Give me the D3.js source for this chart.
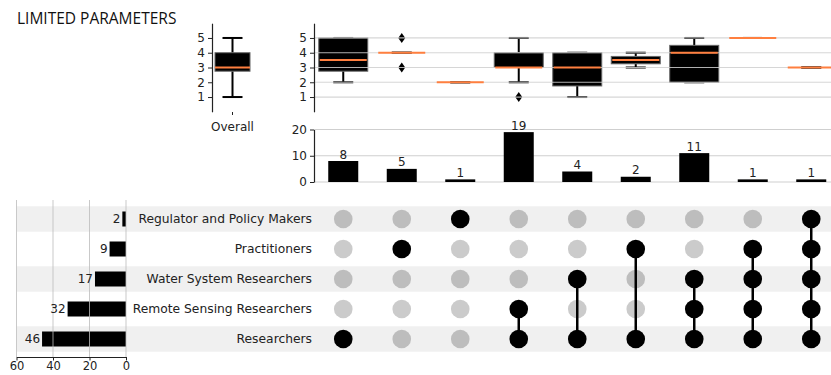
<!DOCTYPE html>
<html>
<head>
<meta charset="utf-8">
<script src="https://cdn.jsdelivr.net/npm/d3@7"></script>
<style>
  body { margin: 0; background: #fff; }
  svg { display: block; font-family: "DejaVu Sans", sans-serif; }
</style>
</head>
<body>
<div id="chart"></div>
<script>
// chart values
var categories = ["Regulator and Policy Makers", "Practitioners", "Water System Researchers",
    "Remote Sensing Researchers", "Researchers"];
var categoryTotals = [2, 9, 17, 32, 46];
var intersectionCounts = [8, 5, 1, 19, 4, 2, 11, 1, 1];
// which categories (index into categories) each intersection contains
var memberships = [[4], [1], [0], [3, 4], [2, 4], [1, 4], [2, 3, 4], [1, 2, 3, 4], [0, 1, 2, 3, 4]];

// box statistics of the rating (1-5) per intersection
var boxQ1 = [2.75, 4, 2, 3, 1.75, 3.25, 2, 5, 3];
var boxMedian = [3.5, 4, 2, 3, 3, 3.5, 4, 5, 3];
var boxQ3 = [5, 4, 2, 4, 4, 3.75, 4.5, 5, 3];
var whiskerLow = [2, 4, 2, 2, 1, 3, 2, 5, 3];
var whiskerHigh = [5, 4, 2, 5, 4, 4, 5, 5, 3];
var outliers = [[], [3, 5], [], [1], [], [], [], [], []];

var overallLabel = ["Overall"];
var overallBox = { q1: 2.75, median: 3, q3: 4, low: 1, high: 5 };

var ratingTicks = [1, 2, 3, 4, 5];
var countTicks = [0, 10, 20];
var totalTicks = [0, 20, 40, 60];
var title = "LIMITED PARAMETERS";

var W = 831, H = 375;
var svg = d3.select("#chart").append("svg")
    .attr("width", W)
    .attr("height", H);

var gridColor = "#cfcfcf";
var bandColor = "#f0f0f0";
var medianColor = "#ff7f3f";
var fontTick = 12;

// scales
var cols = intersectionCounts.map(function (d, i) { return i; });
var x = d3.scaleBand().domain(cols).range([314, 840.5]);
var cx = function (i) { return x(i) + x.bandwidth() / 2; };
var rowY = d3.scalePoint().domain(categories).range([219, 339]);
var yBox = d3.scaleLinear().domain([0, 6]).range([111.8, 23.2]);
var yCount = d3.scaleLinear().domain([0, 20]).range([182, 129.5]);
var xTotal = d3.scaleLinear().domain([0, 60]).range([126, 16.5]);
var xOverall = d3.scaleBand().domain(overallLabel).range([212, 253]);

// title
svg.append("text")
    .attr("x", 17)
    .attr("y", 24)
    .style("font-family", "'Open Sans', sans-serif")
    .style("font-size", "15.5px")
    .style("fill", "#111")
    .text(title);

// ---------- matrix shading ----------
svg.selectAll(".band")
    .data(categories.filter(function (d, i) { return i % 2 == 0; }))
    .enter().append("rect")
    .attr("class", "band")
    .attr("x", 17)
    .attr("y", function (d) { return rowY(d) - 12.7; })
    .attr("width", W - 17)
    .attr("height", 25.4)
    .style("fill", bandColor);

// ---------- totals (left) ----------
var totals = svg.append("g");
totals.selectAll(".totalBar")
    .data(categories)
    .enter().append("rect")
    .attr("class", "totalBar")
    .attr("x", function (d, i) { return xTotal(categoryTotals[i]); })
    .attr("y", function (d) { return rowY(d) - 7.5; })
    .attr("width", function (d, i) { return xTotal(0) - xTotal(categoryTotals[i]); })
    .attr("height", 15)
    .style("fill", "#000");

totals.selectAll(".totalGrid")
    .data(totalTicks)
    .enter().append("line")
    .attr("x1", function (d) { return xTotal(d); })
    .attr("x2", function (d) { return xTotal(d); })
    .attr("y1", 200)
    .attr("y2", 357)
    .style("stroke", "#bbb")
    .style("stroke-opacity", 0.8)
    .style("stroke-width", 1);

totals.selectAll(".totalLabel")
    .data(categories)
    .enter().append("text")
    .attr("x", function (d, i) { return xTotal(categoryTotals[i]) - 2; })
    .attr("y", function (d) { return rowY(d); })
    .attr("dy", "0.36em")
    .style("text-anchor", "end")
    .style("font-size", fontTick + "px")
    .style("fill", "#222")
    .text(function (d, i) { return categoryTotals[i]; });

var totalAxis = totals.append("g")
    .attr("transform", "translate(0,357)")
    .call(d3.axisBottom(xTotal).tickValues(totalTicks).tickSize(3.5).tickPadding(1.5).tickSizeOuter(0));
totalAxis.select(".domain").style("stroke", "#222").style("stroke-width", 1.2);
totalAxis.selectAll(".tick line").style("stroke", "#222");
totalAxis.selectAll("text").style("font-size", "11.5px")
    .style("font-family", "'DejaVu Sans', sans-serif").style("fill", "#222");

// category names
svg.selectAll(".catLabel")
    .data(categories)
    .enter().append("text")
    .attr("x", 312)
    .attr("y", function (d) { return rowY(d); })
    .attr("dy", "0.36em")
    .style("text-anchor", "end")
    .style("font-size", "12.3px")
    .style("fill", "#222")
    .text(function (d) { return d; });

// ---------- matrix dots ----------
var matrix = svg.append("g");
cols.forEach(function (c) {
    var members = memberships[c];
    categories.forEach(function (cat, r) {
        var on = members.indexOf(r) >= 0;
        matrix.append("circle")
            .attr("cx", cx(c))
            .attr("cy", rowY(cat))
            .attr("r", 9.3)
            .style("fill", on ? "#000" : (r % 2 == 0 ? "#bdbdbd" : "#cbcbcb"));
    });
    if (members.length > 1) {
        matrix.append("line")
            .attr("x1", cx(c)).attr("x2", cx(c))
            .attr("y1", rowY(categories[d3.min(members)]))
            .attr("y2", rowY(categories[d3.max(members)]))
            .style("stroke", "#000")
            .style("stroke-width", 2.5);
    }
});

// ---------- intersection size bars ----------
var bars = svg.append("g");
bars.selectAll(".countGrid")
    .data(countTicks)
    .enter().append("line")
    .attr("x1", 314).attr("x2", W)
    .attr("y1", function (d) { return yCount(d); })
    .attr("y2", function (d) { return yCount(d); })
    .style("stroke", gridColor)
    .style("stroke-width", 1);

bars.selectAll(".countBar")
    .data(intersectionCounts)
    .enter().append("rect")
    .attr("x", function (d, i) { return cx(i) - 15; })
    .attr("y", function (d) { return yCount(d); })
    .attr("width", 30)
    .attr("height", function (d) { return yCount(0) - yCount(d); })
    .style("fill", "#000");

bars.selectAll(".countLabel")
    .data(intersectionCounts)
    .enter().append("text")
    .attr("x", function (d, i) { return cx(i); })
    .attr("y", function (d) { return yCount(d) - 2.5; })
    .style("text-anchor", "middle")
    .style("font-size", fontTick + "px")
    .style("fill", "#222")
    .text(function (d) { return d; });

var countAxis = bars.append("g")
    .attr("transform", "translate(314,0)")
    .call(d3.axisLeft(yCount).tickValues(countTicks).tickSize(4).tickPadding(3).tickSizeOuter(0));

// ---------- boxplots ----------
function drawBox(g, center, halfW, s, outl) {
    g.append("line")
        .attr("x1", center).attr("x2", center)
        .attr("y1", yBox(s.q3)).attr("y2", yBox(s.high))
        .style("stroke", "#000").style("stroke-width", 2);
    g.append("line")
        .attr("x1", center).attr("x2", center)
        .attr("y1", yBox(s.q1)).attr("y2", yBox(s.low))
        .style("stroke", "#000").style("stroke-width", 2);
    [s.low, s.high].forEach(function (v) {
        g.append("line")
            .attr("x1", center - 10).attr("x2", center + 10)
            .attr("y1", yBox(v)).attr("y2", yBox(v))
            .style("stroke", "#000").style("stroke-width", 2);
    });
    g.append("rect")
        .attr("x", center - halfW)
        .attr("y", yBox(s.q3))
        .attr("width", halfW * 2)
        .attr("height", yBox(s.q1) - yBox(s.q3))
        .style("fill", "#000")
        .style("stroke", "#666")
        .style("stroke-width", 1);
    (outl || []).forEach(function (v) {
        g.append("path")
            .attr("d", "M0,-5L3.5,0L0,5L-3.5,0Z")
            .attr("transform", "translate(" + center + "," + yBox(v) + ")")
            .style("fill", "#000");
    });
}

var boxes = svg.append("g");
cols.forEach(function (c) {
    drawBox(boxes, cx(c), 24.5, {
        q1: boxQ1[c], median: boxMedian[c], q3: boxQ3[c],
        low: whiskerLow[c], high: whiskerHigh[c]
    }, outliers[c]);
});

// gridlines sit over the boxes, medians over the gridlines
boxes.selectAll(".boxGrid")
    .data(ratingTicks)
    .enter().append("line")
    .attr("x1", 314).attr("x2", W)
    .attr("y1", function (d) { return yBox(d); })
    .attr("y2", function (d) { return yBox(d); })
    .style("stroke", gridColor)
    .style("stroke-opacity", 0.85)
    .style("stroke-width", 1.2);

boxes.selectAll(".median")
    .data(boxMedian)
    .enter().append("line")
    .attr("x1", function (d, i) { return cx(i) - 23.5; })
    .attr("x2", function (d, i) { return cx(i) + 23.5; })
    .attr("y1", function (d) { return yBox(d); })
    .attr("y2", function (d) { return yBox(d); })
    .style("stroke", medianColor)
    .style("stroke-width", 2);

var fmt = d3.format("d");
var boxAxis = boxes.append("g")
    .attr("transform", "translate(314,0)")
    .call(d3.axisLeft(yBox).tickValues(ratingTicks).tickFormat(fmt).tickSize(4).tickPadding(3).tickSizeOuter(0));

// overall box
var overall = svg.append("g");
var oc = xOverall("Overall") + xOverall.bandwidth() / 2;
drawBox(overall, oc, 17.5, overallBox, []);
overall.append("line")
    .attr("x1", oc - 17.5).attr("x2", oc + 17.5)
    .attr("y1", yBox(overallBox.median)).attr("y2", yBox(overallBox.median))
    .style("stroke", medianColor).style("stroke-width", 2);
var overallAxis = overall.append("g")
    .attr("transform", "translate(212,0)")
    .call(d3.axisLeft(yBox).tickValues(ratingTicks).tickFormat(fmt).tickSize(4).tickPadding(3).tickSizeOuter(0));
var overallX = overall.append("g")
    .attr("transform", "translate(0,112)")
    .call(d3.axisBottom(xOverall).tickSize(3).tickPadding(7).tickSizeOuter(0));
overallX.select(".domain").remove();

[countAxis, boxAxis, overallAxis, overallX].forEach(function (a) {
    a.select(".domain").style("stroke", "#222").style("stroke-width", 1.2);
    a.selectAll(".tick line").style("stroke", "#222");
    a.selectAll("text").style("font-size", fontTick + "px")
        .style("font-family", "'DejaVu Sans', sans-serif").style("fill", "#222");
});
</script>
</body>
</html>
